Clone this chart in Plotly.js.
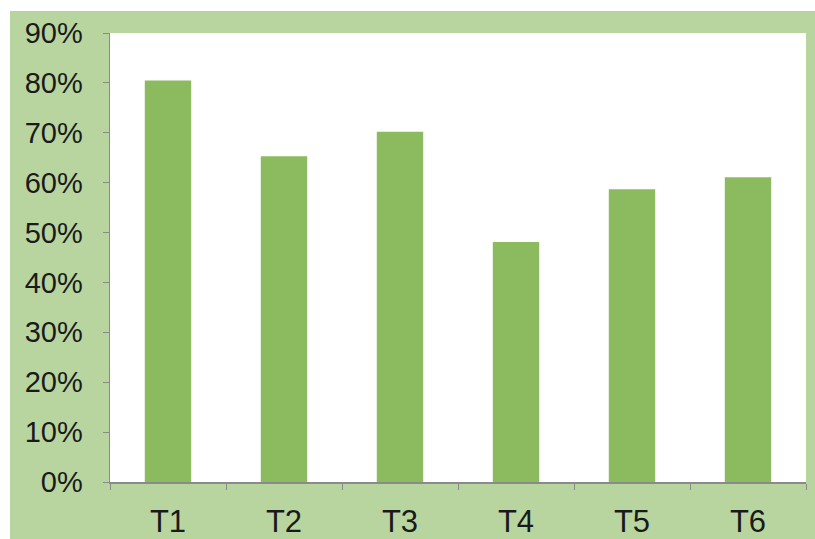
<!DOCTYPE html>
<html>
<head>
<meta charset="utf-8">
<script src="https://cdn.plot.ly/plotly-3.0.1.min.js"></script>
<style>
  html, body { margin: 0; padding: 0; background: #ffffff; }
  #chart { position: absolute; left: 10px; top: 11px; width: 805px; height: 528px; }
</style>
</head>
<body>
<div id="chart"></div>
<script>
// Share per treatment group
const categories = ["T1", "T2", "T3", "T4", "T5", "T6"];
const values = [0.805, 0.653, 0.702, 0.481, 0.587, 0.611];
const yTickValues = [0, 0.1, 0.2, 0.3, 0.4, 0.5, 0.6, 0.7, 0.8, 0.9];
const yTickLabels = ["0%", "10%", "20%", "30%", "40%", "50%", "60%", "70%", "80%", "90%"];

const bars = {
  type: "bar",
  x: categories,
  y: values,
  marker: { color: "#8cbb5f", line: { width: 0 } },
  width: 0.4,
  hoverinfo: "x+y"
};

const layout = {
  width: 805,
  height: 528,
  margin: { l: 100, r: 9, t: 22, b: 57 },
  paper_bgcolor: "#b8d5a0",
  plot_bgcolor: "#ffffff",
  showlegend: false,
  font: { family: "Liberation Sans, Arial, sans-serif", color: "#1a1a1a" },
  xaxis: {
    type: "category",
    showgrid: false,
    zeroline: false,
    showline: true,
    linecolor: "#8a8a8a",
    linewidth: 1.5,
    ticks: "outside",
    tickson: "boundaries",
    ticklen: 6,
    tickcolor: "#8a8a8a",
    tickfont: { size: 31, color: "#1a1a1a" },
    ticklabelstandoff: 11
  },
  yaxis: {
    range: [0, 0.9],
    tickvals: yTickValues,
    ticktext: yTickLabels,
    showgrid: false,
    zeroline: false,
    showline: true,
    linecolor: "#8a8a8a",
    linewidth: 1.5,
    ticks: "outside",
    ticklen: 6,
    tickcolor: "#8a8a8a",
    tickfont: { size: 29, color: "#1a1a1a" },
    ticklabelstandoff: 14
  }
};

Plotly.newPlot("chart", [bars], layout, { displayModeBar: false, staticPlot: true });
</script>
</body>
</html>
